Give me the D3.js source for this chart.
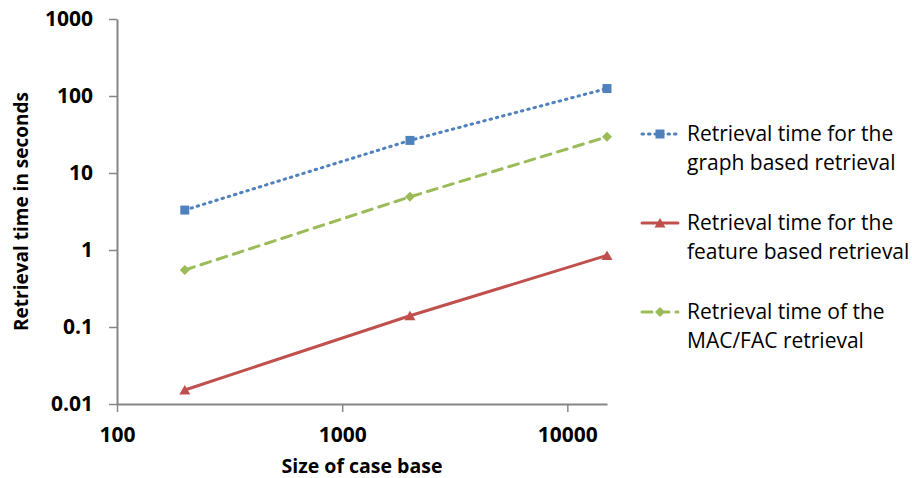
<!DOCTYPE html>
<html>
<head>
<meta charset="utf-8">
<script src="https://cdn.jsdelivr.net/npm/d3@7"></script>
<style>
  body { margin: 0; background: #fff; }
  text { font-family: "Open Sans", "Noto Sans", sans-serif; fill: #000; }
</style>
</head>
<body>
<svg id="vis" width="912" height="478"></svg>
<script>
// values
var sizes = [200, 2000, 15000];
var graphTimes = [3.3, 26.5, 125];
var featureTimes = [0.0152, 0.14, 0.85];
var macfacTimes = [0.55, 4.9, 29.5];
var xTicks = [100, 1000, 10000];
var yTicks = [0.01, 0.1, 1, 10, 100, 1000];

var series = [
  { name: ["Retrieval time for the", "graph based retrieval"], values: graphTimes,
    color: "#4f81bd", dash: "1.5,5", marker: "square" },
  { name: ["Retrieval time for the", "feature based retrieval"], values: featureTimes,
    color: "#c0504d", dash: null, marker: "triangle" },
  { name: ["Retrieval time of the", "MAC/FAC retrieval"], values: macfacTimes,
    color: "#9bbb59", dash: "10,7", marker: "diamond" }
];

var svg = d3.select("#vis");
var margin = { top: 19, right: 305, bottom: 74, left: 117 };
var width = 912, height = 478;
var axisColor = "#868686";

var x = d3.scaleLog().domain([100, 15000]).range([margin.left, width - margin.right]);
var y = d3.scaleLog().domain([0.01, 1000]).range([height - margin.bottom, margin.top]);

function fmt(d) {
  return d < 1 ? String(d) : d3.format("d")(d);
}

// y axis
var yAxis = svg.append("g")
  .attr("transform", `translate(${margin.left},0)`)
  .call(d3.axisLeft(y).tickValues(yTicks).tickFormat(fmt).tickSize(8).tickSizeOuter(0));
yAxis.select(".domain").attr("stroke", axisColor).attr("stroke-width", 2);
yAxis.selectAll(".tick line").attr("stroke", axisColor).attr("stroke-width", 1.5);
yAxis.selectAll(".tick text")
  .attr("x", -24)
  .style("font-size", "21px")
  .style("font-weight", "bold")
  .style("font-family", "'Open Sans', sans-serif");

// x axis
var xAxis = svg.append("g")
  .attr("transform", `translate(0,${height - margin.bottom})`)
  .call(d3.axisBottom(x).tickValues(xTicks).tickFormat(fmt).tickSize(8).tickSizeOuter(0));
xAxis.select(".domain").attr("stroke", axisColor).attr("stroke-width", 2);
xAxis.selectAll(".tick line").attr("stroke", axisColor).attr("stroke-width", 1.5);
xAxis.selectAll(".tick text")
  .attr("y", 23)
  .style("font-size", "21px")
  .style("font-weight", "bold")
  .style("font-family", "'Open Sans', sans-serif");

// axis titles
svg.append("text")
  .text("Size of case base")
  .attr("x", (margin.left + width - margin.right) / 2)
  .attr("y", 473)
  .attr("text-anchor", "middle")
  .style("font-size", "19.5px")
  .style("font-weight", "bold");

svg.append("text")
  .text("Retrieval time in seconds")
  .attr("transform", `translate(28,${(margin.top + height - margin.bottom) / 2}) rotate(-90)`)
  .attr("text-anchor", "middle")
  .style("font-size", "19px")
  .style("font-weight", "bold");

function drawMarker(g, type, cx, cy, color) {
  if (type === "square") {
    g.append("rect").attr("x", cx - 4.5).attr("y", cy - 4.5)
      .attr("width", 9).attr("height", 9).attr("fill", color);
  } else if (type === "triangle") {
    g.append("path").attr("d", `M${cx},${cy - 5}L${cx + 5.5},${cy + 4.5}L${cx - 5.5},${cy + 4.5}Z`)
      .attr("fill", color);
  } else {
    g.append("path").attr("d", `M${cx},${cy - 5}L${cx + 5},${cy}L${cx},${cy + 5}L${cx - 5},${cy}Z`)
      .attr("fill", color);
  }
}

var line = d3.line().x(d => x(d[0])).y(d => y(d[1]));

series.forEach(function(s) {
  var pts = sizes.map((v, i) => [v, s.values[i]]);
  var g = svg.append("g");
  g.append("path")
    .datum(pts)
    .attr("d", line)
    .attr("fill", "none")
    .attr("stroke", s.color)
    .attr("stroke-width", 3)
    .attr("stroke-linecap", "round")
    .attr("stroke-dasharray", s.dash);
  pts.forEach(p => drawMarker(g, s.marker, x(p[0]), y(p[1]), s.color));
});

// legend
var legendY = [134, 223, 312];
series.forEach(function(s, i) {
  var g = svg.append("g").attr("transform", `translate(642,${legendY[i]})`);
  g.append("line")
    .attr("x1", 0).attr("x2", 36).attr("y1", 0).attr("y2", 0)
    .attr("stroke", s.color)
    .attr("stroke-width", 3)
    .attr("stroke-linecap", "round")
    .attr("stroke-dasharray", s.dash);
  drawMarker(g, s.marker, 18, 0, s.color);
  s.name.forEach(function(t, j) {
    g.append("text")
      .text(t)
      .attr("x", 45)
      .attr("y", j * 29 + 7)
      .style("font-size", "21px");
  });
});
</script>
</body>
</html>
